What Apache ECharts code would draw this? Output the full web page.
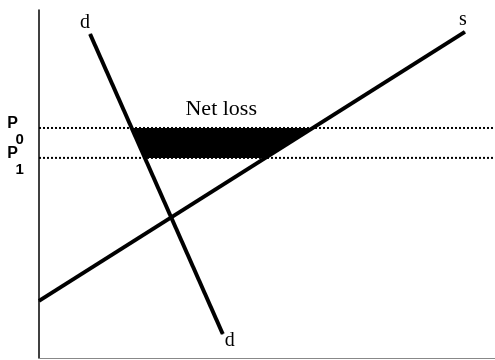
<!DOCTYPE html>
<html>
<head>
<meta charset="utf-8">
<script src="https://cdn.jsdelivr.net/npm/echarts@6/dist/echarts.min.js"></script>
<style>
	html, body { margin: 0; padding: 0; background: #fff; }
	#EChart { width: 495px; height: 360px; }
</style>
</head>
<body>
<div id="EChart"></div>
<script>
	// quantity / price on a 0..100 scale
	var demandQ = [11.2, 40.3];
	var demandP = [93.1, 6.9];
	var supplyQ = [0, 93.4];
	var supplyP = [16.4, 93.7];
	var priceLevels = [66.1, 57.5];
	var priceSubs = ['0', '1'];
	var lossLabel = 'Net loss';

	var chart = echarts.init(document.getElementById('EChart'));

	// quantity on a straight line at a given price
	function qAt(qs, ps, p) {
		return qs[0] + (p - ps[0]) * (qs[1] - qs[0]) / (ps[1] - ps[0]);
	}

	function endLabel(text, offset) {
		return {
			show: true,
			position: 'inside',
			offset: offset,
			formatter: text,
			color: '#000',
			fontFamily: 'Liberation Serif',
			fontSize: 20
		};
	}

	// dotted price line with its P label at the left end
	function priceLine(i) {
		return {
			type: 'line',
			silent: true,
			symbol: 'circle',
			symbolSize: 0.1,
			itemStyle: { color: '#000' },
			lineStyle: { color: '#000', width: 2, type: [2, 2] },
			labelLayout: { hideOverlap: false },
			data: [{
				value: [0, priceLevels[i]],
				label: {
					show: true,
					position: 'left',
					distance: 15,
					padding: [8, 0, 0, 0],
					formatter: '{p|P}\n{s|' + priceSubs[i] + '}',
					rich: {
						p: { fontFamily: 'Liberation Sans', fontWeight: 'bold', fontSize: 16, lineHeight: 16, padding: [0, 6, 0, 0], color: '#000' },
						s: { fontFamily: 'Liberation Sans', fontWeight: 'bold', fontSize: 15, lineHeight: 16, color: '#000' }
					}
				}
			}, [100, priceLevels[i]]]
		};
	}

	option = {
		animation: false,
		grid: { left: 39, right: 0, top: 10, bottom: 2 },
		xAxis: {
			type: 'value',
			min: 0,
			max: 100,
			axisLine: { lineStyle: { color: '#888', width: 1.2 } },
			axisTick: { show: false },
			axisLabel: { show: false },
			splitLine: { show: false }
		},
		yAxis: {
			type: 'value',
			min: 0,
			max: 100,
			axisLine: { show: true, lineStyle: { color: '#000', width: 1.5 } },
			axisTick: { show: false },
			axisLabel: { show: false },
			splitLine: { show: false }
		},
		series: [
			{
				type: 'custom',
				silent: true,
				data: [[priceLevels[0], priceLevels[1]]],
				renderItem: function (params, api) {
					var p0 = api.value(0), p1 = api.value(1);
					var a = api.coord([qAt(demandQ, demandP, p0), p0]);
					var b = api.coord([qAt(supplyQ, supplyP, p0), p0]);
					var c = api.coord([qAt(supplyQ, supplyP, p1), p1]);
					var d = api.coord([qAt(demandQ, demandP, p1), p1]);
					return {
						type: 'group',
						children: [{
							type: 'polygon',
							shape: { points: [a, b, c, d] },
							style: { fill: '#000' }
						}, {
							type: 'text',
							x: (a[0] + b[0]) / 2 - 1,
							y: a[1] - 8,
							style: {
								text: lossLabel,
								fill: '#000',
								font: '22px "Liberation Serif"',
								align: 'center',
								verticalAlign: 'bottom'
							}
						}]
					};
				}
			},
			priceLine(0),
			priceLine(1),
			{
				name: 'd',
				type: 'line',
				symbol: 'circle',
				symbolSize: 1,
				itemStyle: { color: '#000' },
				lineStyle: { color: '#000', width: 4 },
				data: [
					{ value: [demandQ[0], demandP[0]], label: endLabel('d', [-5, -11]) },
					{ value: [demandQ[1], demandP[1]], label: endLabel('d', [7, 7]) }
				]
			},
			{
				name: 's',
				type: 'line',
				symbol: 'circle',
				symbolSize: 1,
				itemStyle: { color: '#000' },
				lineStyle: { color: '#000', width: 4 },
				data: [
					{ value: [supplyQ[0], supplyP[0]] },
					{ value: [supplyQ[1], supplyP[1]], label: endLabel('s', [-2, -12]) }
				]
			}
		]
	};

	chart.setOption(option);

	window.onresize = function () {
		chart.resize();
	};
</script>
</body>
</html>
